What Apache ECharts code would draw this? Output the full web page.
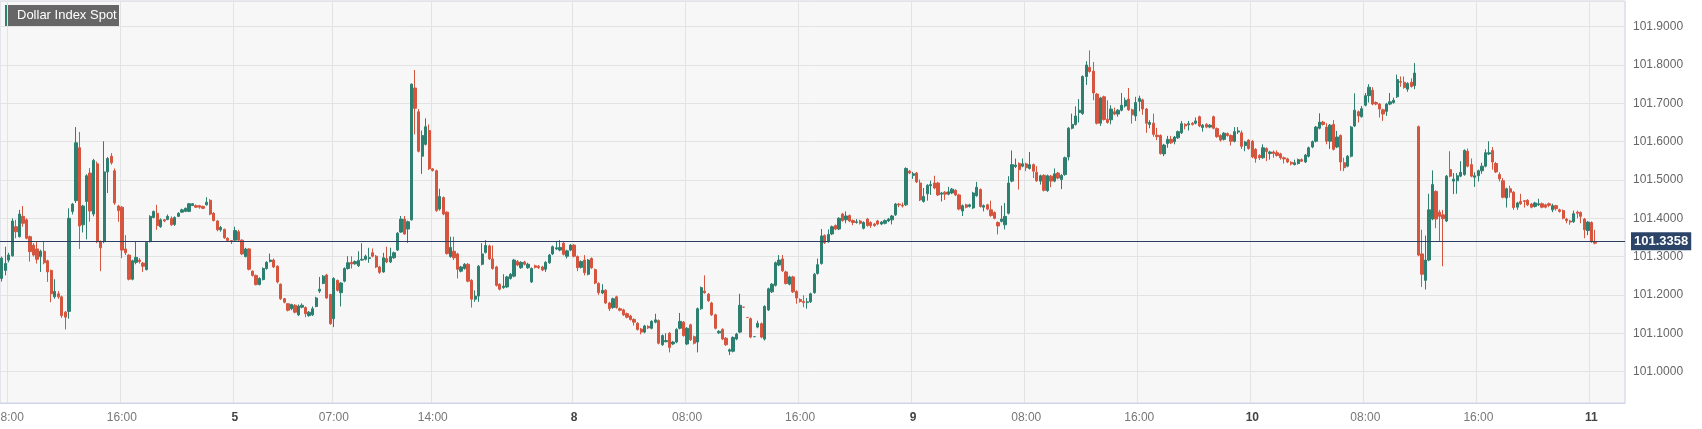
<!DOCTYPE html>
<html><head><meta charset="utf-8">
<script src="https://cdn.jsdelivr.net/npm/echarts@6/dist/echarts.min.js"></script>
<style>html,body{margin:0;padding:0;background:#fff}#c{width:1702px;height:429px}</style>
</head><body><div id="c"></div>
<script>
// [open, close, low, high] per 15-minute candle
const seg1 = [
[101.243,101.296,101.235,101.300],[101.264,101.282,101.251,101.326],[101.291,101.304,101.285,101.31],[101.302,101.393,101.30,101.40],
[101.378,101.365,101.348,101.396],[101.352,101.411,101.35,101.422],[101.405,101.387,101.378,101.432],[101.396,101.348,101.345,101.40],
[101.352,101.313,101.287,101.355],[101.330,101.304,101.30,101.335],[101.320,101.293,101.282,101.339],[101.300,101.314,101.260,101.318],
[101.314,101.284,101.28,101.341],[101.289,101.260,101.234,101.292],[101.264,101.203,101.181,101.266],[101.195,101.209,101.19,101.241],
[101.203,101.195,101.19,101.21],[101.195,101.146,101.14,101.198],[101.155,101.142,101.110,101.158],[101.157,101.400,101.138,101.426],
[101.418,101.437,101.41,101.44],[101.446,101.597,101.44,101.638],[101.584,101.380,101.320,101.625],[101.383,101.432,101.363,101.435],
[101.444,101.511,101.345,101.515],[101.518,101.419,101.391,101.531],[101.411,101.551,101.405,101.555],[101.542,101.339,101.335,101.548],
[101.339,101.323,101.262,101.342],[101.339,101.521,101.335,101.601],[101.521,101.556,101.466,101.56],[101.562,101.545,101.54,101.57],
[101.524,101.440,101.435,101.53],[101.432,101.42,101.391,101.435],[101.429,101.317,101.296,101.432],[101.32,101.31,101.304,101.356],
[101.304,101.241,101.238,101.306],[101.241,101.289,101.238,101.292],[101.285,101.298,101.28,101.339],[101.291,101.287,101.282,101.296],
[101.283,101.275,101.260,101.286],[101.266,101.337,101.264,101.34],[101.339,101.405,101.337,101.408],[101.402,101.418,101.40,101.42],
[101.413,101.381,101.370,101.435],[101.378,101.396,101.375,101.40],[101.396,101.393,101.39,101.398],[101.397,101.405,101.395,101.41],
[101.400,101.383,101.38,101.405],[101.384,101.402,101.38,101.405],[101.405,101.413,101.403,101.416],[101.416,101.422,101.414,101.425],
[101.418,101.426,101.416,101.428],[101.418,101.438,101.416,101.44],[101.433,101.438,101.432,101.44],[101.433,101.429,101.427,101.436],
[101.433,101.429,101.425,101.435],[101.431,101.426,101.424,101.433],[101.435,101.442,101.433,101.455],[101.447,101.411,101.408,101.45],
[101.413,101.394,101.392,101.416],[101.393,101.370,101.366,101.395],[101.370,101.376,101.365,101.38],[101.371,101.349,101.346,101.373],
[101.348,101.342,101.34,101.35],[101.342,101.339,101.333,101.343],[101.343,101.368,101.341,101.378],[101.365,101.343,101.340,101.37],
[101.343,101.307,101.304,101.345],[101.300,101.320,101.298,101.323],[101.320,101.267,101.264,101.322],[101.262,101.251,101.248,101.264],
[101.251,101.227,101.225,101.253],[101.227,101.243,101.225,101.246],[101.240,101.269,101.238,101.272],[101.269,101.285,101.266,101.288],
[101.287,101.291,101.285,101.308]
];
const seg2 = [
[101.291,101.273,101.270,101.295],[101.275,101.234,101.230,101.277],[101.228,101.190,101.187,101.23],[101.190,101.181,101.178,101.192],
[101.177,101.160,101.157,101.179],[101.164,101.175,101.16,101.177],[101.173,101.155,101.152,101.176],[101.148,101.171,101.145,101.175],
[101.168,101.173,101.165,101.178],[101.167,101.151,101.142,101.170],[101.146,101.155,101.143,101.158],[101.148,101.164,101.145,101.17],
[101.170,101.192,101.168,101.195],[101.210,101.215,101.205,101.247],[101.230,101.249,101.228,101.252],[101.252,101.192,101.19,101.255],
[101.201,101.125,101.122,101.203],[101.138,101.243,101.116,101.246],[101.238,101.212,101.209,101.24],[101.206,101.231,101.170,101.234],
[101.236,101.269,101.233,101.272],[101.269,101.284,101.266,101.301],[101.285,101.281,101.269,101.301],[101.281,101.287,101.279,101.29],
[101.276,101.290,101.273,101.314],[101.291,101.293,101.289,101.335],[101.293,101.301,101.29,101.305],[101.295,101.297,101.284,101.323],
[101.310,101.301,101.298,101.321],[101.301,101.273,101.27,101.304],[101.273,101.259,101.255,101.276],[101.260,101.297,101.258,101.310],
[101.295,101.286,101.283,101.326],[101.286,101.300,101.283,101.323],[101.297,101.310,101.294,101.313],[101.317,101.361,101.315,101.364],
[101.364,101.398,101.362,101.406],[101.398,101.359,101.357,101.406],[101.372,101.391,101.336,101.394],[101.396,101.750,101.394,101.752],
[101.740,101.687,101.619,101.787],[101.678,101.575,101.572,101.685],[101.562,101.616,101.516,101.629],[101.593,101.639,101.590,101.661],
[101.629,101.529,101.526,101.645],[101.529,101.525,101.522,101.531],[101.524,101.420,101.417,101.527],[101.424,101.457,101.42,101.477],
[101.454,101.411,101.408,101.457],[101.416,101.308,101.305,101.418],[101.300,101.324,101.297,101.352],[101.314,101.297,101.291,101.352],
[101.307,101.267,101.243,101.31],[101.262,101.273,101.259,101.276],[101.269,101.280,101.266,101.283],[101.280,101.236,101.233,101.283],
[101.238,101.189,101.167,101.241],[101.189,101.197,101.182,101.212],[101.197,101.275,101.182,101.278],[101.280,101.307,101.277,101.335],
[101.311,101.329,101.308,101.343],[101.328,101.294,101.291,101.331],[101.294,101.269,101.266,101.329],[101.273,101.225,101.222,101.276],
[101.228,101.215,101.212,101.23],[101.219,101.223,101.216,101.254],[101.221,101.247,101.218,101.25],[101.243,101.254,101.24,101.257],
[101.249,101.291,101.246,101.294],[101.287,101.278,101.275,101.291],[101.271,101.285,101.268,101.288],[101.286,101.280,101.277,101.289],
[101.271,101.280,101.268,101.284],[101.234,101.269,101.231,101.272],[101.276,101.272,101.269,101.279],[101.275,101.271,101.268,101.278]
];
const seg3 = [
[101.273,101.265,101.262,101.276],[101.267,101.285,101.26,101.288],[101.284,101.304,101.281,101.307],[101.307,101.326,101.304,101.329],
[101.320,101.323,101.317,101.341],[101.317,101.324,101.314,101.343],[101.335,101.306,101.303,101.338],[101.301,101.315,101.295,101.318],
[101.317,101.330,101.314,101.333],[101.330,101.301,101.298,101.333],[101.300,101.271,101.262,101.303],[101.272,101.287,101.269,101.29],
[101.291,101.258,101.251,101.304],[101.254,101.291,101.251,101.294],[101.295,101.271,101.268,101.298],[101.266,101.231,101.228,101.269],
[101.230,101.206,101.2,101.233],[101.205,101.212,101.202,101.228],[101.212,101.179,101.176,101.215],[101.179,101.164,101.158,101.182],
[101.167,101.190,101.164,101.193],[101.195,101.167,101.164,101.198],[101.164,101.160,101.157,101.167],[101.161,101.148,101.145,101.164],
[101.151,101.142,101.139,101.154],[101.145,101.136,101.133,101.148],[101.136,101.129,101.12,101.139],[101.126,101.110,101.107,101.129],
[101.111,101.103,101.097,101.114],[101.103,101.119,101.1,101.122],[101.118,101.114,101.111,101.121],[101.113,101.131,101.11,101.134],
[101.129,101.135,101.126,101.151],[101.133,101.074,101.071,101.136],[101.070,101.094,101.067,101.097],[101.078,101.081,101.076,101.100],
[101.100,101.063,101.050,101.103],[101.072,101.077,101.069,101.08],[101.077,101.110,101.074,101.113],[101.113,101.131,101.11,101.153],
[101.129,101.094,101.091,101.132],[101.072,101.113,101.069,101.116],[101.122,101.083,101.08,101.125],[101.091,101.074,101.071,101.094],
[101.077,101.164,101.050,101.167],[101.164,101.219,101.161,101.222],[101.210,101.206,101.203,101.251],[101.202,101.185,101.182,101.205],
[101.179,101.148,101.145,101.182],[101.148,101.113,101.11,101.151],[101.101,101.105,101.098,101.108],[101.110,101.085,101.082,101.113],
[101.087,101.070,101.067,101.09],[101.053,101.057,101.043,101.06],[101.053,101.089,101.05,101.092],[101.085,101.098,101.082,101.101],
[101.103,101.173,101.1,101.203],[101.168,101.168,101.168,101.168],[101.141,101.141,101.141,101.141],[101.138,101.090,101.087,101.141],
[101.091,101.091,101.091,101.091],[101.116,101.126,101.113,101.133],[101.125,101.090,101.087,101.128],[101.085,101.170,101.081,101.173],
[101.161,101.216,101.158,101.219],[101.208,101.228,101.205,101.231],[101.225,101.284,101.222,101.287],[101.278,101.291,101.275,101.304],
[101.294,101.263,101.26,101.304],[101.260,101.230,101.227,101.263],[101.228,101.247,101.225,101.25],[101.247,101.208,101.205,101.25],
[101.209,101.192,101.177,101.212],[101.188,101.183,101.18,101.191],[101.183,101.180,101.168,101.199],[101.180,101.182,101.164,101.192]
];
const seg4 = [
[101.182,101.203,101.179,101.206],[101.206,101.254,101.203,101.257],[101.256,101.279,101.253,101.295],[101.282,101.354,101.279,101.372],
[101.355,101.336,101.333,101.358],[101.339,101.358,101.336,101.371],[101.359,101.378,101.356,101.381],[101.381,101.372,101.369,101.384],
[101.372,101.400,101.369,101.403],[101.411,101.394,101.391,101.414],[101.396,101.406,101.387,101.418],[101.407,101.393,101.39,101.41],
[101.394,101.389,101.382,101.397],[101.389,101.391,101.386,101.398],[101.393,101.387,101.384,101.396],[101.374,101.389,101.371,101.392],
[101.398,101.381,101.378,101.401],[101.389,101.381,101.375,101.392],[101.385,101.381,101.378,101.388],[101.393,101.385,101.382,101.396],
[101.385,101.390,101.382,101.393],[101.387,101.394,101.384,101.397],[101.393,101.398,101.39,101.401],[101.396,101.406,101.384,101.409],
[101.409,101.437,101.406,101.44],[101.437,101.435,101.429,101.44],[101.434,101.432,101.428,101.441],[101.435,101.530,101.432,101.533],
[101.523,101.518,101.515,101.526],[101.512,101.516,101.503,101.521],[101.518,101.495,101.492,101.521],[101.492,101.448,101.445,101.501],
[101.444,101.457,101.441,101.479],[101.464,101.486,101.446,101.489],[101.485,101.488,101.461,101.498],[101.492,101.479,101.476,101.511],
[101.492,101.461,101.458,101.495],[101.463,101.466,101.444,101.469],[101.468,101.463,101.448,101.471],[101.463,101.469,101.46,101.482],
[101.466,101.476,101.463,101.479],[101.473,101.461,101.458,101.476],[101.461,101.424,101.421,101.464],[101.419,101.433,101.406,101.436],
[101.435,101.429,101.426,101.438],[101.431,101.435,101.428,101.438],[101.427,101.466,101.424,101.469],[101.459,101.481,101.456,101.495],
[101.475,101.431,101.428,101.478],[101.429,101.433,101.418,101.436],[101.435,101.424,101.421,101.438],[101.422,101.407,101.404,101.446],
[101.415,101.400,101.397,101.418],[101.389,101.380,101.358,101.392],[101.392,101.398,101.389,101.433],[101.383,101.405,101.371,101.440],
[101.413,101.492,101.41,101.510],[101.497,101.540,101.494,101.577],[101.535,101.539,101.531,101.556],[101.543,101.527,101.475,101.546],
[101.536,101.542,101.533,101.556],[101.542,101.532,101.523,101.545],[101.530,101.540,101.527,101.573],[101.540,101.523,101.505,101.543],
[101.520,101.498,101.495,101.536],[101.497,101.511,101.488,101.514],[101.512,101.473,101.47,101.515],[101.472,101.511,101.469,101.514],
[101.510,101.497,101.481,101.513],[101.497,101.516,101.494,101.530],[101.518,101.505,101.502,101.521],[101.501,101.512,101.476,101.515],
[101.514,101.558,101.511,101.561],[101.560,101.635,101.551,101.638],[101.635,101.645,101.632,101.673],[101.645,101.667,101.642,101.692]
];
const seg5 = [
[101.676,101.682,101.650,101.711],[101.673,101.770,101.67,101.773],[101.770,101.800,101.748,101.810],[101.794,101.783,101.78,101.838],
[101.784,101.727,101.708,101.808],[101.724,101.648,101.645,101.727],[101.648,101.714,101.641,101.717],[101.717,101.658,101.655,101.72],
[101.658,101.650,101.647,101.708],[101.657,101.685,101.645,101.695],[101.678,101.672,101.669,101.689],[101.672,101.682,101.665,101.685],
[101.682,101.695,101.679,101.727],[101.693,101.708,101.689,101.715],[101.711,101.683,101.68,101.740],[101.683,101.670,101.647,101.686],
[101.667,101.702,101.654,101.717],[101.705,101.713,101.679,101.72],[101.709,101.685,101.67,101.712],[101.685,101.648,101.623,101.688],
[101.645,101.650,101.635,101.656],[101.648,101.619,101.613,101.673],[101.617,101.613,101.604,101.636],[101.616,101.569,101.566,101.619],
[101.568,101.591,101.562,101.594],[101.595,101.606,101.584,101.615],[101.606,101.597,101.594,101.615],[101.600,101.612,101.593,101.615],
[101.610,101.626,101.607,101.629],[101.623,101.647,101.62,101.654],[101.645,101.641,101.632,101.648],[101.644,101.647,101.629,101.654],
[101.648,101.645,101.642,101.651],[101.648,101.654,101.645,101.663],[101.665,101.641,101.638,101.668],[101.637,101.643,101.626,101.646],
[101.645,101.638,101.635,101.648],[101.638,101.643,101.635,101.646],[101.665,101.635,101.632,101.668],[101.634,101.613,101.61,101.637],
[101.616,101.604,101.6,101.619],[101.606,101.622,101.603,101.625],[101.621,101.616,101.613,101.624],[101.616,101.601,101.59,101.619],
[101.601,101.626,101.598,101.638],[101.625,101.628,101.62,101.638],[101.623,101.588,101.581,101.629],[101.590,101.599,101.575,101.602],
[101.604,101.582,101.579,101.606],[101.601,101.560,101.557,101.604],[101.580,101.556,101.545,101.583],[101.564,101.558,101.552,101.567],
[101.558,101.584,101.555,101.593],[101.582,101.574,101.549,101.585],[101.569,101.573,101.553,101.576],[101.573,101.569,101.558,101.577],
[101.571,101.564,101.561,101.577],[101.568,101.558,101.553,101.571],[101.558,101.555,101.543,101.561],[101.555,101.547,101.544,101.558],
[101.546,101.542,101.538,101.549],[101.540,101.545,101.538,101.553],[101.543,101.553,101.54,101.556],[101.553,101.549,101.547,101.556],
[101.547,101.565,101.544,101.568],[101.562,101.584,101.559,101.587],[101.586,101.600,101.583,101.603],[101.601,101.638,101.598,101.641],
[101.635,101.651,101.632,101.674],[101.651,101.645,101.642,101.654],[101.638,101.601,101.593,101.648],[101.601,101.643,101.581,101.646],
[101.645,101.580,101.577,101.656],[101.586,101.612,101.583,101.628],[101.616,101.547,101.524,101.619]
];
const seg6 = [
[101.545,101.532,101.523,101.558],[101.536,101.562,101.533,101.565],[101.562,101.638,101.559,101.641],[101.641,101.682,101.638,101.726],
[101.678,101.667,101.650,101.681],[101.665,101.686,101.663,101.693],[101.695,101.720,101.692,101.727],[101.720,101.742,101.702,101.750],
[101.734,101.698,101.695,101.742],[101.702,101.698,101.695,101.705],[101.698,101.685,101.663,101.701],[101.683,101.672,101.654,101.686],
[101.679,101.698,101.667,101.701],[101.698,101.704,101.695,101.727],[101.702,101.708,101.699,101.715],[101.717,101.762,101.714,101.775],
[101.757,101.755,101.743,101.770],[101.755,101.741,101.738,101.770],[101.737,101.752,101.730,101.755],[101.755,101.744,101.741,101.765],
[101.746,101.779,101.737,101.805],[101.639,101.304,101.301,101.642],[101.307,101.254,101.221,101.370],[101.238,101.291,101.214,101.355],
[101.291,101.422,101.288,101.464],[101.398,101.488,101.395,101.525],[101.470,101.398,101.374,101.473],[101.416,101.405,101.341,101.422],
[101.409,101.399,101.275,101.422],[101.393,101.510,101.39,101.513],[101.527,101.510,101.507,101.575],[101.497,101.502,101.463,101.518],
[101.498,101.511,101.464,101.518],[101.510,101.520,101.507,101.549],[101.514,101.577,101.511,101.58],[101.575,101.536,101.533,101.582],
[101.540,101.510,101.507,101.556],[101.507,101.511,101.482,101.520],[101.511,101.524,101.496,101.527],[101.524,101.536,101.516,101.545],
[101.536,101.571,101.533,101.580],[101.568,101.571,101.565,101.601],[101.577,101.547,101.527,101.586],[101.543,101.521,101.518,101.547],
[101.514,101.503,101.496,101.520],[101.498,101.455,101.452,101.505],[101.453,101.477,101.428,101.48],[101.477,101.468,101.454,101.485],
[101.468,101.428,101.422,101.471],[101.429,101.440,101.422,101.443],[101.444,101.438,101.435,101.464],[101.446,101.444,101.428,101.446],
[101.447,101.435,101.432,101.45],[101.437,101.429,101.426,101.44],[101.431,101.440,101.428,101.443],[101.435,101.438,101.432,101.451],
[101.438,101.429,101.426,101.441],[101.435,101.429,101.426,101.438],[101.438,101.434,101.429,101.441],[101.422,101.433,101.416,101.438],
[101.433,101.425,101.420,101.435],[101.422,101.418,101.415,101.425],[101.420,101.400,101.397,101.423],[101.398,101.394,101.387,101.401],
[101.393,101.390,101.383,101.396],[101.391,101.412,101.388,101.420],[101.416,101.413,101.400,101.420],[101.415,101.405,101.387,101.418],
[101.398,101.370,101.348,101.401],[101.368,101.390,101.356,101.393],[101.389,101.339,101.336,101.392],[101.339,101.335,101.332,101.370]
];
const lastPrice = 101.3358;
// x-axis tick labels: [candle slot, text, isDay]
const tickLabels = [[2,'08:00',0],[34,'16:00',0],[66,'5',1],[94,'07:00',0],[122,'14:00',0],[162,'8',1],[194,'08:00',0],[226,'16:00',0],
[258,'9',1],[290,'08:00',0],[322,'16:00',0],[354,'10',1],[386,'08:00',0],[418,'16:00',0],[450,'11',1]];
const slots = 460;

const candles = [].concat(seg1, seg2, seg3, seg4, seg5, seg6);
const cats = []; for (let i = 0; i < slots; i++) cats.push(String(i));
const labelMap = {}; tickLabels.forEach(t => labelMap[t[0]] = t);

const chart = echarts.init(document.getElementById('c'));
chart.setOption({
  animation: false,
  backgroundColor: '#ffffff',
  grid: {left: 0, right: 77, top: 1, bottom: 26, containLabel: false, outerBoundsMode: 'none',
    show: true, backgroundColor: '#f7f7f7', borderColor: '#cfd4e6', borderWidth: 1},
  xAxis: {
    type: 'category', data: cats, boundaryGap: true,
    axisLine: {lineStyle: {color: '#cfd4e6'}}, axisTick: {show: false},
    axisLabel: {interval: 0, margin: 9, fontFamily: 'Arial, Liberation Sans', fontSize: 12, hideOverlap: false,
      formatter: v => { const t = labelMap[+v]; if (!t) return ''; return t[2] ? '{d|' + t[1] + '}' : t[1]; },
      color: '#777', rich: {d: {fontWeight: 'bold', color: '#444', fontSize: 12, fontFamily: 'Arial, Liberation Sans'}}},
    splitLine: {show: true, interval: (i) => !!labelMap[i], lineStyle: {color: '#e3e3e3'}}
  },
  yAxis: {
    type: 'value', position: 'right', min: 100.918, max: 101.967, splitNumber: 10, scale: true,
    axisLine: {show: false}, axisTick: {show: false},
    axisLabel: {showMinLabel: false, showMaxLabel: false, margin: 8, color: '#666', fontSize: 12, fontFamily: 'Arial, Liberation Sans',
      formatter: v => v.toFixed(4)},
    splitLine: {lineStyle: {color: '#e3e3e3'}}
  },
  series: [{
    type: 'candlestick', data: candles, barWidth: '78%',
    itemStyle: {color: '#2d8070', color0: '#d6553f', borderColor: '#2d8070', borderColor0: '#d6553f', borderWidth: 1},
    markLine: {
      symbol: 'none', silent: true,
      lineStyle: {color: '#2c3f63', width: 1.2, type: 'solid'},
      label: {position: 'end', distance: 6, formatter: lastPrice.toFixed(4), color: '#fff', fontWeight: 'bold', fontSize: 13,
        fontFamily: 'Arial, Liberation Sans', backgroundColor: '#2c4468', padding: [3, 3, 2, 3]},
      data: [{yAxis: lastPrice}]
    }
  }],
  graphic: [
    {type: 'rect', left: 5, top: 5, shape: {width: 114, height: 22}, style: {fill: '#666666'}},
    {type: 'rect', left: 5, top: 5, shape: {width: 2, height: 22}, style: {fill: '#2d8070'}},
    {type: 'text', left: 17, top: 9, style: {text: 'Dollar Index Spot', fill: '#fff', font: '13px Arial, Liberation Sans'}}
  ]
});
</script></body></html>
